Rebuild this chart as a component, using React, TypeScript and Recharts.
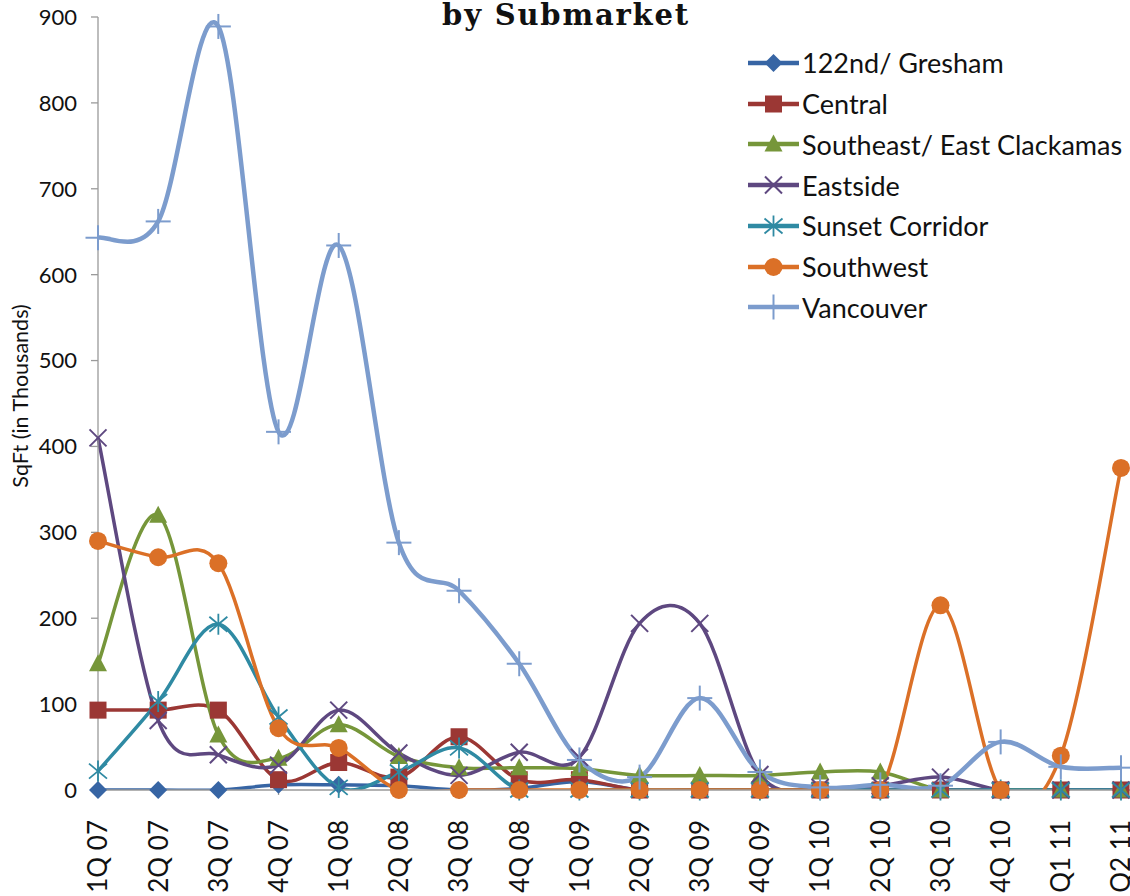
import React from 'react';
import { LineChart, Line, XAxis, YAxis, Legend } from 'recharts';

const categories = ['1Q 07', '2Q 07', '3Q 07', '4Q 07', '1Q 08', '2Q 08', '3Q 08', '4Q 08', '1Q 09', '2Q 09', '3Q 09', '4Q 09', '1Q 10', '2Q 10', '3Q 10', '4Q 10', 'Q1 11', 'Q2 11'];
const gresham = [0, 0, 0, 6, 6, 5, 0, 2, 10, 0, 0, 0, 0, 0, 0, 0, 0, 0];
const central = [93, 93, 93, 12, 32, 15, 62, 12, 12, 0, 0, 0, 0, 0, 0, 0, 0, 0];
const southeast = [147, 320, 64, 37, 76, 39, 26, 26, 25, 17, 17, 17, 21, 21, 0, 0, 0, 0];
const eastside = [410, 81, 41, 29, 93, 43, 17, 44, 38, 194, 194, 18, 3, 5, 15, 0, 0, 0];
const sunset = [22, 103, 193, 85, 3, 21, 49, 0, 0, 0, 0, 0, 0, 0, 0, 0, 0, 0];
const southwest = [290, 271, 264, 72, 49, 0, 0, 0, 0, 0, 0, 0, 0, 0, 215, 0, 40, 375];
const vancouver = [643, 662, 889, 417, 634, 288, 232, 147, 35, 15, 107, 21, 3, 6, 5, 56, 27, 26];
const yTicks = [0, 100, 200, 300, 400, 500, 600, 700, 800, 900];

const series = [
  { key: 'gresham', name: '122nd/ Gresham', values: gresham, color: '#3765A4', kind: 'diamond', width: 3.5 },
  { key: 'central', name: 'Central', values: central, color: '#9B3734', kind: 'square', width: 3.5 },
  { key: 'southeast', name: 'Southeast/ East Clackamas', values: southeast, color: '#76963A', kind: 'triangle', width: 3.5 },
  { key: 'eastside', name: 'Eastside', values: eastside, color: '#5E4880', kind: 'x', width: 3.5 },
  { key: 'sunset', name: 'Sunset Corridor', values: sunset, color: '#2F8AA3', kind: 'star', width: 3.5 },
  { key: 'southwest', name: 'Southwest', values: southwest, color: '#DB7027', kind: 'circle', width: 3.5 },
  { key: 'vancouver', name: 'Vancouver', values: vancouver, color: '#7C9CCD', kind: 'plus', width: 4.5 },
];

const data = categories.map((c, i) => {
  const row: any = { cat: c };
  series.forEach((s) => {
    row[s.key] = s.values[i];
  });
  return row;
});

// Excel-like smoothed line (Catmull-Rom style Bezier)
function excelSmooth(context: any) {
  let pts: number[][] = [];
  return {
    areaStart() {},
    areaEnd() {},
    lineStart() {
      pts = [];
    },
    point(x: number, y: number) {
      pts.push([+x, +y]);
    },
    lineEnd() {
      const n = pts.length;
      if (!n) return;
      context.moveTo(pts[0][0], pts[0][1]);
      for (let i = 0; i < n - 1; i++) {
        const p0 = pts[Math.max(i - 1, 0)];
        const p1 = pts[i];
        const p2 = pts[i + 1];
        const p3 = pts[Math.min(i + 2, n - 1)];
        context.bezierCurveTo(
          p1[0] + (p2[0] - p0[0]) / 6,
          p1[1] + (p2[1] - p0[1]) / 6,
          p2[0] - (p3[0] - p1[0]) / 6,
          p2[1] - (p3[1] - p1[1]) / 6,
          p2[0],
          p2[1]
        );
      }
    },
  };
}

function MarkerShape({ kind, color, cx, cy }: { kind: string; color: string; cx: number; cy: number }) {
  if (cx == null || cy == null) return null;
  switch (kind) {
    case 'diamond':
      return <polygon points={`${cx},${cy - 9} ${cx + 9},${cy} ${cx},${cy + 9} ${cx - 9},${cy}`} fill={color} />;
    case 'square':
      return <rect x={cx - 8.5} y={cy - 8.5} width={17} height={17} fill={color} />;
    case 'triangle':
      return <polygon points={`${cx},${cy - 9.5} ${cx + 9},${cy + 7.5} ${cx - 9},${cy + 7.5}`} fill={color} />;
    case 'x':
      return (
        <g stroke={color} strokeWidth={2}>
          <line x1={cx - 8.5} y1={cy - 8.5} x2={cx + 8.5} y2={cy + 8.5} />
          <line x1={cx - 8.5} y1={cy + 8.5} x2={cx + 8.5} y2={cy - 8.5} />
        </g>
      );
    case 'star':
      return (
        <g stroke={color} strokeWidth={1.8}>
          <line x1={cx - 9} y1={cy - 7.5} x2={cx + 9} y2={cy + 7.5} />
          <line x1={cx - 9} y1={cy + 7.5} x2={cx + 9} y2={cy - 7.5} />
          <line x1={cx} y1={cy - 10.5} x2={cx} y2={cy + 10.5} />
        </g>
      );
    case 'circle':
      return <circle cx={cx} cy={cy} r={9} fill={color} />;
    case 'plus':
      return (
        <g stroke={color} strokeWidth={2}>
          <line x1={cx - 12.5} y1={cy} x2={cx + 12.5} y2={cy} />
          <line x1={cx} y1={cy - 12.5} x2={cx} y2={cy + 12.5} />
        </g>
      );
    default:
      return null;
  }
}

function makeDot(kind: string, color: string) {
  return (props: any) => (
    <g key={`dot-${kind}-${props.index}`}>
      <MarkerShape kind={kind} color={color} cx={props.cx} cy={props.cy} />
    </g>
  );
}

const XTick = (props: any) => {
  const { x, payload } = props;
  const y = 820;
  return (
    <text
      x={x}
      y={y}
      transform={`rotate(-90 ${x} ${y})`}
      textAnchor="end"
      dy="0.36em"
      fontFamily="Lato, sans-serif"
      fontSize={26}
      fill="#111"
    >
      {payload.value}
    </text>
  );
};

const YTick = (props: any) => {
  const { x, y, payload } = props;
  return (
    <text
      x={x}
      y={y}
      textAnchor="end"
      dy="0.36em"
      fontFamily="Lato, sans-serif"
      fontSize={22}
      fill="#111"
    >
      {payload.value}
    </text>
  );
};

const YLabel = () => (
  <text
    x={20}
    y={396}
    transform="rotate(-90 20 396)"
    textAnchor="middle"
    dy="0.35em"
    fontFamily="Lato, sans-serif"
    fontSize={21.5}
    fill="#111"
  >
    SqFt (in Thousands)
  </text>
);

const LegendContent = () => (
  <div style={{ fontFamily: 'Lato, sans-serif', fontSize: 27, color: '#111' }}>
    {series.map((s) => (
      <div key={s.key} style={{ display: 'flex', alignItems: 'center', height: 40.75 }}>
        <svg width={54} height={40} style={{ display: 'block' }}>
          <line x1={0} y1={20} x2={51} y2={20} stroke={s.color} strokeWidth={4.5} />
          <MarkerShape kind={s.kind} color={s.color} cx={25.5} cy={20} />
        </svg>
        <span style={{ whiteSpace: 'nowrap', lineHeight: 1 }}>{s.name}</span>
      </div>
    ))}
  </div>
);

export default function App() {
  return (
    <div style={{ position: 'absolute', left: 0, top: 0, width: 1130, height: 896, background: '#fff' }}>
      <LineChart width={1130} height={896} data={data} margin={{ top: 17, right: 9, left: 0, bottom: 0 }}>
        <XAxis
          dataKey="cat"
          interval={0}
          height={106}
          tick={<XTick />}
          tickSize={5}
          axisLine={{ stroke: '#9a9a9a', strokeWidth: 1.3 }}
          tickLine={{ stroke: '#9a9a9a', strokeWidth: 1.3 }}
        />
        <YAxis
          yAxisId="main"
          width={98}
          domain={[0, 900]}
          ticks={yTicks}
          interval={0}
          allowDataOverflow
          tickSize={7}
          tickMargin={14}
          tick={<YTick />}
          axisLine={{ stroke: '#9a9a9a', strokeWidth: 1.3 }}
          tickLine={{ stroke: '#9a9a9a', strokeWidth: 1.3 }}
          label={<YLabel />}
        />
        <YAxis yAxisId="dots" orientation="right" hide domain={[0, 900]} />
        {series.map((s) => [
          <Line
            key={`${s.key}-line`}
            yAxisId="main"
            dataKey={s.key}
            name={s.name}
            type={excelSmooth as any}
            stroke={s.color}
            strokeWidth={s.width}
            dot={false}
            activeDot={false}
            isAnimationActive={false}
          />,
          <Line
            key={`${s.key}-dots`}
            yAxisId="dots"
            dataKey={s.key}
            legendType="none"
            stroke="none"
            strokeWidth={0}
            dot={makeDot(s.kind, s.color)}
            activeDot={false}
            isAnimationActive={false}
          />,
        ])}
        <Legend
          layout="vertical"
          align="center"
          verticalAlign="middle"
          content={<LegendContent />}
          wrapperStyle={{ left: 748, top: 42.6, width: 390 }}
        />
      </LineChart>
      <div
        style={{
          position: 'absolute',
          left: 0,
          width: 1132,
          top: 2,
          textAlign: 'center',
          fontFamily: '"DejaVu Serif", serif',
          fontWeight: 'bold',
          fontSize: 29,
          letterSpacing: 1.8,
          color: '#111',
          lineHeight: '26px',
        }}
      >
        by Submarket
      </div>
    </div>
  );
}
